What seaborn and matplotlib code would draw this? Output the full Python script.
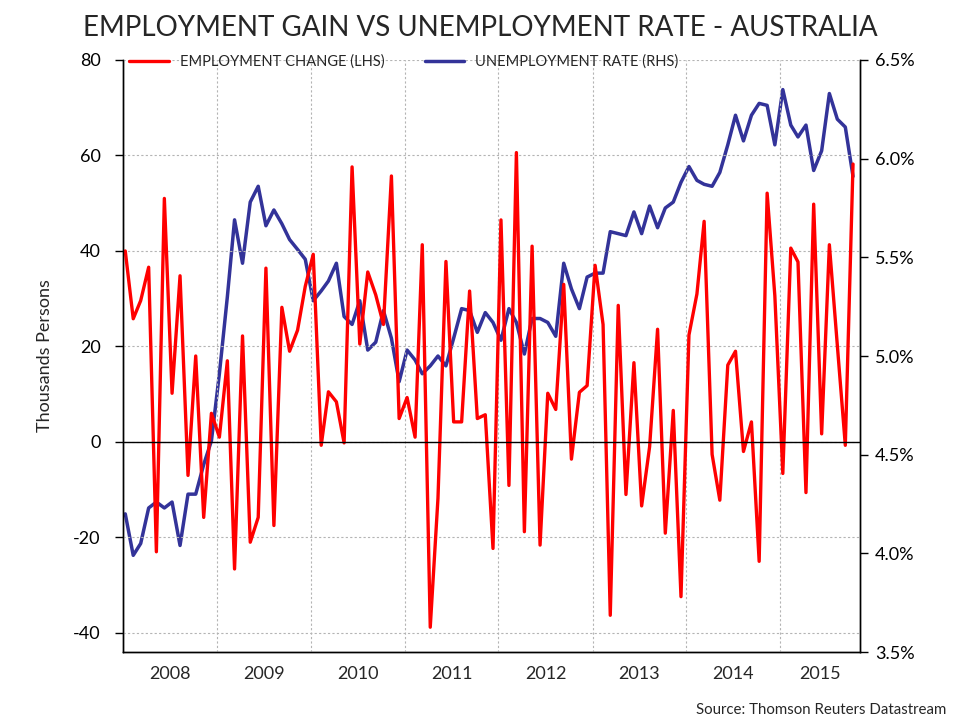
import pandas as pd
import numpy as np
import matplotlib
matplotlib.use("Agg")
import matplotlib.pyplot as plt
import matplotlib.dates as mdates
import matplotlib.transforms as mtransforms
import seaborn as sns

# Monthly data, Jan 2008 - Oct 2015
start_month = "2008-01"
n_months = 94

# employment change, thousands of persons (LHS)
employment_change = [
    40, 25.8, 29.6, 36.6, -23, 51, 10.2, 34.8, -7, 18, -15.8, 6,
    1, 17, -26.6, 22.2, -21, -15.8, 36.4, -17.5, 28.2, 19, 23.4, 32.6,
    39.3, -0.7, 10.5, 8.4, -0.2, 57.6, 20.5, 35.6, 30.8, 24.6, 55.7, 4.9,
    9.3, 1, 41.3, -38.8, -11.8, 37.8, 4.2, 4.2, 31.6, 4.9, 5.7, -22.3,
    46.5, -9.1, 60.6, -18.8, 41, -21.6, 10.2, 6.8, 33, -3.6, 10.4, 11.8,
    37, 24.6, -36.3, 28.6, -11, 16.6, -13.4, -1, 23.6, -19.1, 6.6, -32.4,
    22.4, 31, 46.2, -2.6, -12.2, 16.1, 19, -2, 4.2, -25, 52.1, 30.6,
    -6.6, 40.6, 37.7, -10.6, 49.8, 1.7, 41.3, 20.2, -0.7, 58.2,
]

# unemployment rate, % (RHS)
unemployment_rate = [
    4.20, 3.99, 4.05, 4.23, 4.26, 4.23, 4.26, 4.04, 4.30, 4.30, 4.45, 4.57,
    4.91, 5.30, 5.69, 5.47, 5.78, 5.86, 5.66, 5.74, 5.67, 5.59, 5.54, 5.49,
    5.28, 5.33, 5.38, 5.47, 5.20, 5.16, 5.28, 5.03, 5.07, 5.23, 5.09, 4.87,
    5.03, 4.98, 4.91, 4.95, 5.00, 4.95, 5.09, 5.24, 5.23, 5.12, 5.22, 5.17,
    5.08, 5.24, 5.17, 5.01, 5.19, 5.19, 5.17, 5.10, 5.47, 5.34, 5.24, 5.40,
    5.42, 5.42, 5.63, 5.62, 5.61, 5.73, 5.62, 5.76, 5.65, 5.75, 5.78, 5.88,
    5.96, 5.89, 5.87, 5.86, 5.93, 6.07, 6.22, 6.09, 6.22, 6.28, 6.27, 6.07,
    6.35, 6.17, 6.11, 6.17, 5.94, 6.04, 6.33, 6.20, 6.16, 5.91,
]

years = list(range(2008, 2016))
lhs_ticks = [-40, -20, 0, 20, 40, 60, 80]
rhs_ticks = [3.5, 4.0, 4.5, 5.0, 5.5, 6.0, 6.5]

dates = pd.date_range(start_month, periods=n_months, freq="MS") + pd.Timedelta(days=10)
df = pd.DataFrame({"date": dates,
                   "change": employment_change,
                   "rate": unemployment_rate})

sns.set_style("white")
plt.rcParams["font.family"] = ["Lato", "DejaVu Sans"]
plt.rcParams["axes.unicode_minus"] = False

RED = "#ff0000"
BLUE = "#333399"
GRID = "#b4b4b4"

fig = plt.figure(figsize=(9.6, 7.2), dpi=100)
ax = fig.add_axes([0.1278, 0.0944, 0.768, 0.8223])
ax2 = ax.twinx()

sns.lineplot(data=df, x="date", y="change", ax=ax, color=RED, lw=2.4,
             label="EMPLOYMENT CHANGE (LHS)", legend=False)
sns.lineplot(data=df, x="date", y="rate", ax=ax2, color=BLUE, lw=2.5,
             label="UNEMPLOYMENT RATE (RHS)", legend=False)

x0 = pd.Timestamp("2008-01-01")
x1 = pd.Timestamp("2015-11-07")
ax.set_xlim(x0, x1)
ax.set_ylim(-44, 80)
ax2.set_ylim(3.5, 6.5)

ax.set_yticks(lhs_ticks)
ax.set_yticklabels([str(t) for t in lhs_ticks])
ax2.set_yticks(rhs_ticks)
ax2.set_yticklabels([f"{t:.1f}%" for t in rhs_ticks])

ax.xaxis.set_major_locator(mdates.YearLocator())
ax.xaxis.set_minor_locator(mdates.MonthLocator(bymonth=[1, 4, 7, 10]))
ax.xaxis.set_major_formatter(plt.NullFormatter())

ax.tick_params(axis="x", which="both", direction="out", length=5, width=1, colors="black")
ax.tick_params(axis="y", direction="out", length=6, width=1, pad=10,
               labelsize=13, colors="black")
ax2.tick_params(axis="y", direction="out", length=6, width=1, pad=5,
                labelsize=13, colors="black")

ax.grid(True, which="major", axis="both", color=GRID, linestyle=(0, (2, 2)), lw=0.8)
ax.axhline(0, color="black", lw=1)

for a in (ax, ax2):
    a.spines["top"].set_visible(False)
    for s in ("left", "right", "bottom"):
        a.spines[s].set_color("black")
        a.spines[s].set_linewidth(1)
ax2.grid(False)

ax.set_xlabel("")
ax2.set_ylabel("")
ax.set_ylabel("Thousands Persons", fontsize=13, labelpad=14)

# year labels centred on the visible part of each year
trans = mtransforms.blended_transform_factory(ax.transData, ax.transAxes)
for y in years:
    a = max(pd.Timestamp(f"{y}-01-01"), x0)
    b = min(pd.Timestamp(f"{y + 1}-01-01"), x1)
    mid = a + (b - a) / 2
    ax.text(mdates.date2num(mid), -0.023, str(y), transform=trans,
            ha="center", va="top", fontsize=13)

h1, l1 = ax.get_legend_handles_labels()
h2, l2 = ax2.get_legend_handles_labels()
ax.legend(h1 + h2, l1 + l2, loc="center left", bbox_to_anchor=(0.009, 0.997),
          ncol=2, frameon=False, fontsize=10.5, handlelength=2.7,
          handletextpad=0.75, columnspacing=2.8, borderpad=0, borderaxespad=0)
ax.set_zorder(ax2.get_zorder() + 1)
ax.patch.set_visible(False)

fig.text(0.5, 0.961, "EMPLOYMENT GAIN VS UNEMPLOYMENT RATE - AUSTRALIA",
         ha="center", va="center", fontsize=20)
fig.text(0.986, 0.014, "Source: Thomson Reuters Datastream",
         ha="right", va="center", fontsize=10.8)

fig.savefig("out.png", dpi=100)
